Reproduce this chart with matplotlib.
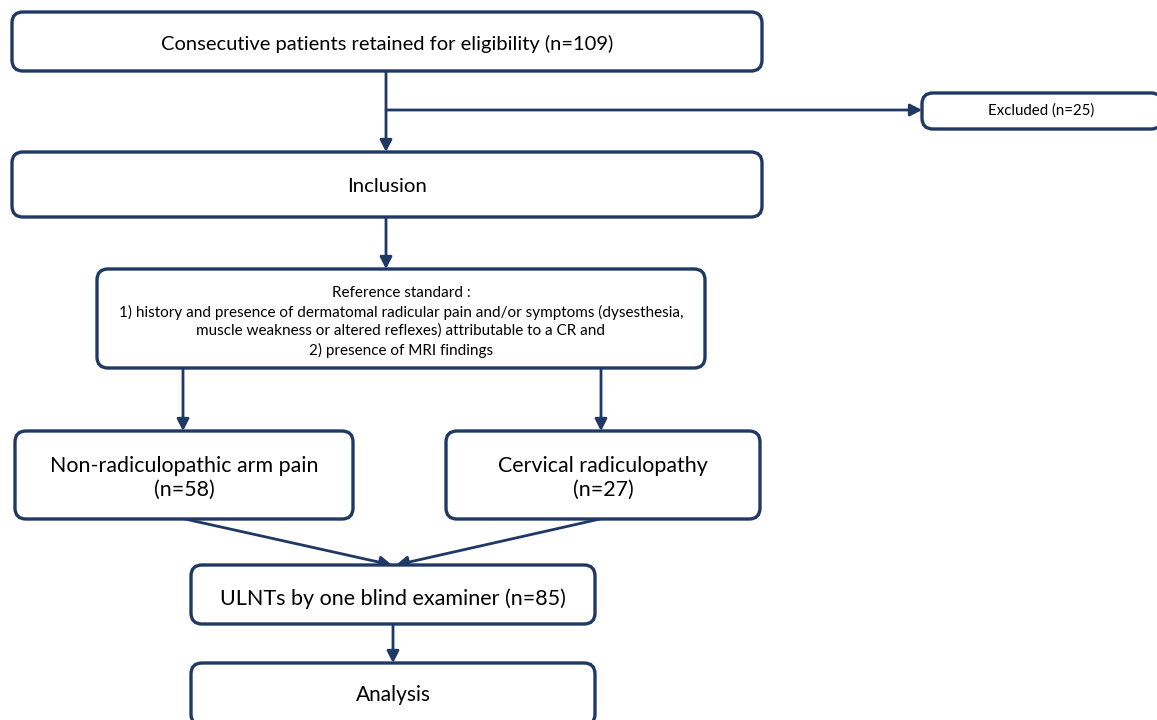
import matplotlib
matplotlib.use("Agg")
import matplotlib.pyplot as plt
from matplotlib.patches import FancyBboxPatch, FancyArrowPatch

# ---- content ----
box_labels = [
    "Consecutive patients retained for eligibility (n=109)",
    "Excluded (n=25)",
    "Inclusion",
    "Reference standard :\n1) history and presence of dermatomal radicular pain and/or symptoms (dysesthesia,\nmuscle weakness or altered reflexes) attributable to a CR and\n2) presence of MRI findings",
    "Non-radiculopathic arm pain\n(n=58)",
    "Cervical radiculopathy\n(n=27)",
    "ULNTs by one blind examiner (n=85)",
    "Analysis",
]

# ---- layout (pixels: x0, y0, x1, y1; y from top) ----
boxes = [
    (12, 12, 762, 71),
    (922, 93, 1162, 129),
    (12, 152, 762, 217),
    (97, 269, 705, 368),
    (15, 431, 353, 519),
    (446, 431, 760, 519),
    (191, 565, 595, 624),
    (191, 663, 595, 725),
]
text_centers = [44, 111, 187, 322, 478, 478, 599, 695]
font_sizes = [14.5, 10.8, 14.7, 11, 15.4, 15.4, 15.5, 15]
line_spacing = [1.2, 1.2, 1.2, 1.36, 1.25, 1.25, 1.2, 1.2]

arrows = [
    ((386, 71), (386, 152)),
    ((386, 110), (922, 110)),
    ((386, 217), (386, 269)),
    ((183, 368), (183, 431)),
    ((601, 368), (601, 431)),
    ((185, 519), (392, 565)),
    ((600, 519), (396, 565)),
    ((393, 624), (393, 663)),
]

color = "#1f3864"
W, H = 1157, 720
fig = plt.figure(figsize=(W / 100, H / 100), dpi=100)
ax = fig.add_axes([0, 0, 1, 1])
ax.set_xlim(0, W)
ax.set_ylim(H, 0)
ax.axis("off")

plt.rcParams["font.family"] = ["Lato", "DejaVu Sans"]

for (x0, y0, x1, y1), lab, fs, ls, yc in zip(boxes, box_labels, font_sizes, line_spacing, text_centers):
    p = FancyBboxPatch((x0, y0), x1 - x0, y1 - y0,
                       boxstyle="round,pad=0,rounding_size=11",
                       linewidth=2.4, edgecolor=color, facecolor="white",
                       zorder=2, clip_on=False)
    ax.add_patch(p)
    ax.text((x0 + x1) / 2 if x1 <= W else 1041, yc,
            lab, ha="center", va="center", fontsize=fs, color="black",
            linespacing=ls, zorder=3, family=["Lato", "DejaVu Sans"])

for (a, b) in arrows:
    arr = FancyArrowPatch(a, b, arrowstyle="-|>,head_length=7,head_width=3.6",
                          color=color, linewidth=2.0, shrinkA=0, shrinkB=0,
                          mutation_scale=1, zorder=1)
    ax.add_patch(arr)

fig.savefig("out.png", dpi=100, facecolor="white")
